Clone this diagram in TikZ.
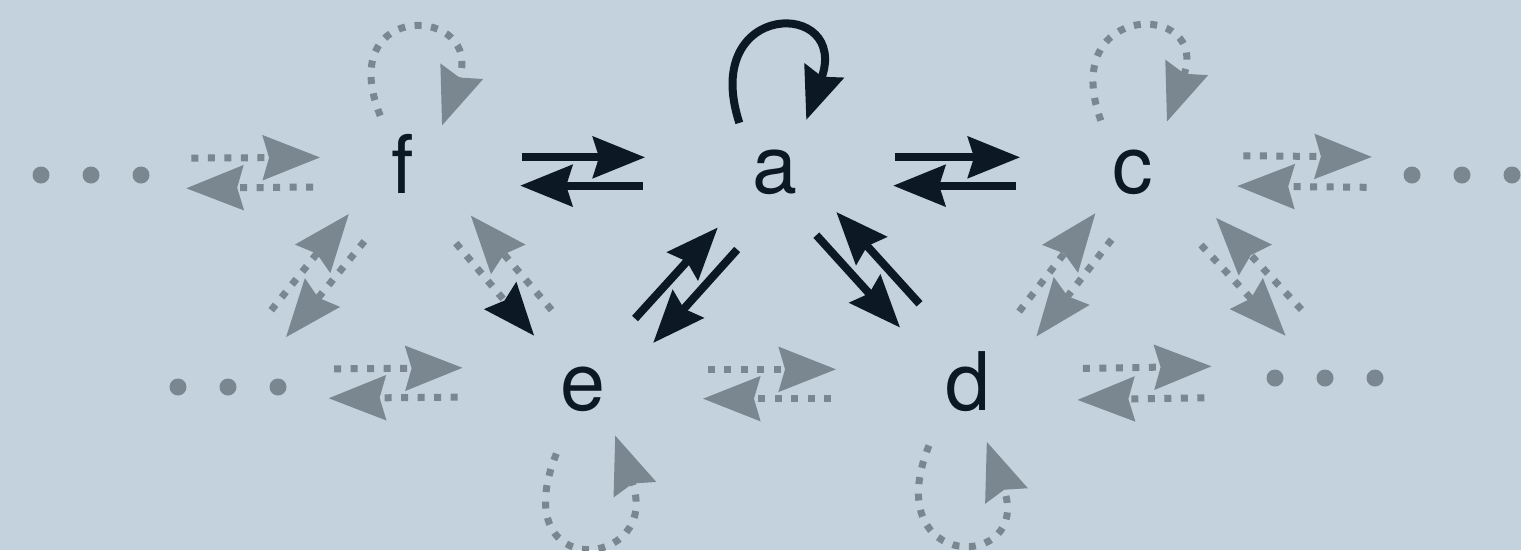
\documentclass[tikz,border=0pt]{standalone}
\usepackage{fontspec}
\setmainfont{TeX Gyre Heros}
\usepackage{tikz}
\usetikzlibrary{arrows.meta}
\usepackage{xcolor}
\definecolor{fondo}{HTML}{C3D2DC}
\definecolor{tinta}{HTML}{0C1823}
\definecolor{gris}{HTML}{7A8690}

\begin{document}
\begin{tikzpicture}[
    every node/.style={font=\fontsize{23}{27}\selectfont, text=tinta},
    estado/.style={
        circle,
        inner sep=0pt,
        minimum size=12mm,
        text height=4.3mm,
        text depth=0pt
    },
    abajo/.style={text height=5.2mm},
    flecha/.style={
        -{Stealth[length=5.2mm, width=4.1mm, inset=0.6mm]},
        line width=0.8mm,
        draw=tinta
    },
    punteada/.style={
        -{Stealth[length=5.7mm, width=4.4mm, inset=0.6mm]},
        line width=0.7mm,
        draw=gris,
        dash pattern=on 0.7mm off 0.95mm
    },
    punteadanegra/.style={
        punteada,
        -{Stealth[length=5.2mm, width=4.1mm, inset=0.6mm, color=tinta]}
    }
]

\useasboundingbox (0,0) rectangle (15.21,5.5);
\fill[fondo] (0,0) rectangle (15.21,5.5);

\node[estado] (f) at (4.03,3.78) {f};
\node[estado] (a) at (7.75,3.78) {a};
\node[estado] (c) at (11.33,3.78) {c};
\node[estado, abajo] (e) at (5.83,1.66) {e};
\node[estado, abajo] (d) at (9.68,1.66) {d};
\node[estado] (wt) at (0.91,3.75) {};
\node[estado] (et) at (14.62,3.75) {};
\node[estado] (wb) at (2.28,1.63) {};
\node[estado] (eb) at (13.25,1.72) {};

\foreach \n in {wt,et,wb,eb}
    \foreach \dx in {-5mm,0mm,5mm}
        \fill[gris] ([xshift=\dx]\n) circle (0.85mm);

\draw[flecha, shorten <=6.0mm, shorten >=7.1mm] (f.14) -- (a.166);
\draw[flecha, shorten <=7.3mm, shorten >=5.8mm] (a.193) -- (f.-13);
\draw[flecha, shorten <=6.1mm, shorten >=5.4mm] (a.14) -- (c.166);
\draw[flecha, shorten <=5.8mm, shorten >=5.9mm] (c.193) -- (a.-13);
\draw[flecha, shorten <=2.3mm, shorten >=1.9mm] (e.53) -- (a.223);
\draw[flecha, shorten <=2.7mm, shorten >=2.2mm] (a.251) -- (e.24);
\draw[flecha, shorten <=1.5mm, shorten >=2.8mm] (a.301) -- (d.144);
\draw[flecha, shorten <=3.4mm, shorten >=1.3mm] (d.115) -- (a.330);
\draw[flecha] (a.126) to[out=108, in=70, looseness=4.95] (a.59);

\draw[punteada, shorten <=4.2mm, shorten >=2.4mm] (wt.16) -- (f.166);
\draw[punteada, shorten <=3.1mm, shorten >=3.6mm] (f.194) -- (wt.-13);
\draw[punteada, shorten <=5.2mm, shorten >=3.2mm] (c.16) -- (et.163);
\draw[punteada, shorten <=3.6mm, shorten >=4.5mm] (et.192) -- (c.-13);
\draw[punteada, shorten <=4.8mm, shorten >=6.2mm] (wb.17) -- (e.164);
\draw[punteada, shorten <=6.6mm, shorten >=4.1mm] (e.192) -- (wb.-11);
\draw[punteada, shorten <=6.6mm, shorten >=7.3mm] (e.14) -- (d.166);
\draw[punteada, shorten <=7.8mm, shorten >=6.1mm] (d.194) -- (e.-14);
\draw[punteada, shorten <=5.6mm, shorten >=5.4mm] (d.14) -- (eb.168);
\draw[punteada, shorten <=6.3mm, shorten >=5.1mm] (eb.198) -- (d.-16);

\draw[punteadanegra, shorten <=2.8mm, shorten >=0.8mm] (f.-55) -- (e.136);
\draw[punteada, shorten <=2.1mm, shorten >=2.1mm] (e.107) -- (f.-27);
\draw[punteada, shorten <=1.9mm, shorten >=1.6mm] (f.244) -- (wb.38);
\draw[punteada, shorten <=2.8mm, shorten >=0.8mm] (wb.65) -- (f.216);
\draw[punteada, shorten <=1.1mm, shorten >=2.4mm] (c.256) -- (d.28);
\draw[punteada, shorten <=2.8mm, shorten >=-0.5mm] (d.56) -- (c.228);
\draw[punteada, shorten <=3.9mm, shorten >=-0.3mm] (c.-47) -- (eb.133);
\draw[punteada, shorten <=1.3mm, shorten >=3.7mm] (eb.104) -- (c.-18);

\draw[punteada] (f.112) to[out=112, in=70, looseness=5.2] (f.50);
\draw[punteada] (c.122) to[out=110, in=70, looseness=4.95] (c.56);
\draw[punteada] ([yshift=-1.5mm]e.244) to[out=-112, in=-70, looseness=5.9] (e.-58);
\draw[punteada] ([yshift=-1.5mm]d.230) to[out=-112, in=-70, looseness=6.1] (d.-72);

\end{tikzpicture}
\end{document}
